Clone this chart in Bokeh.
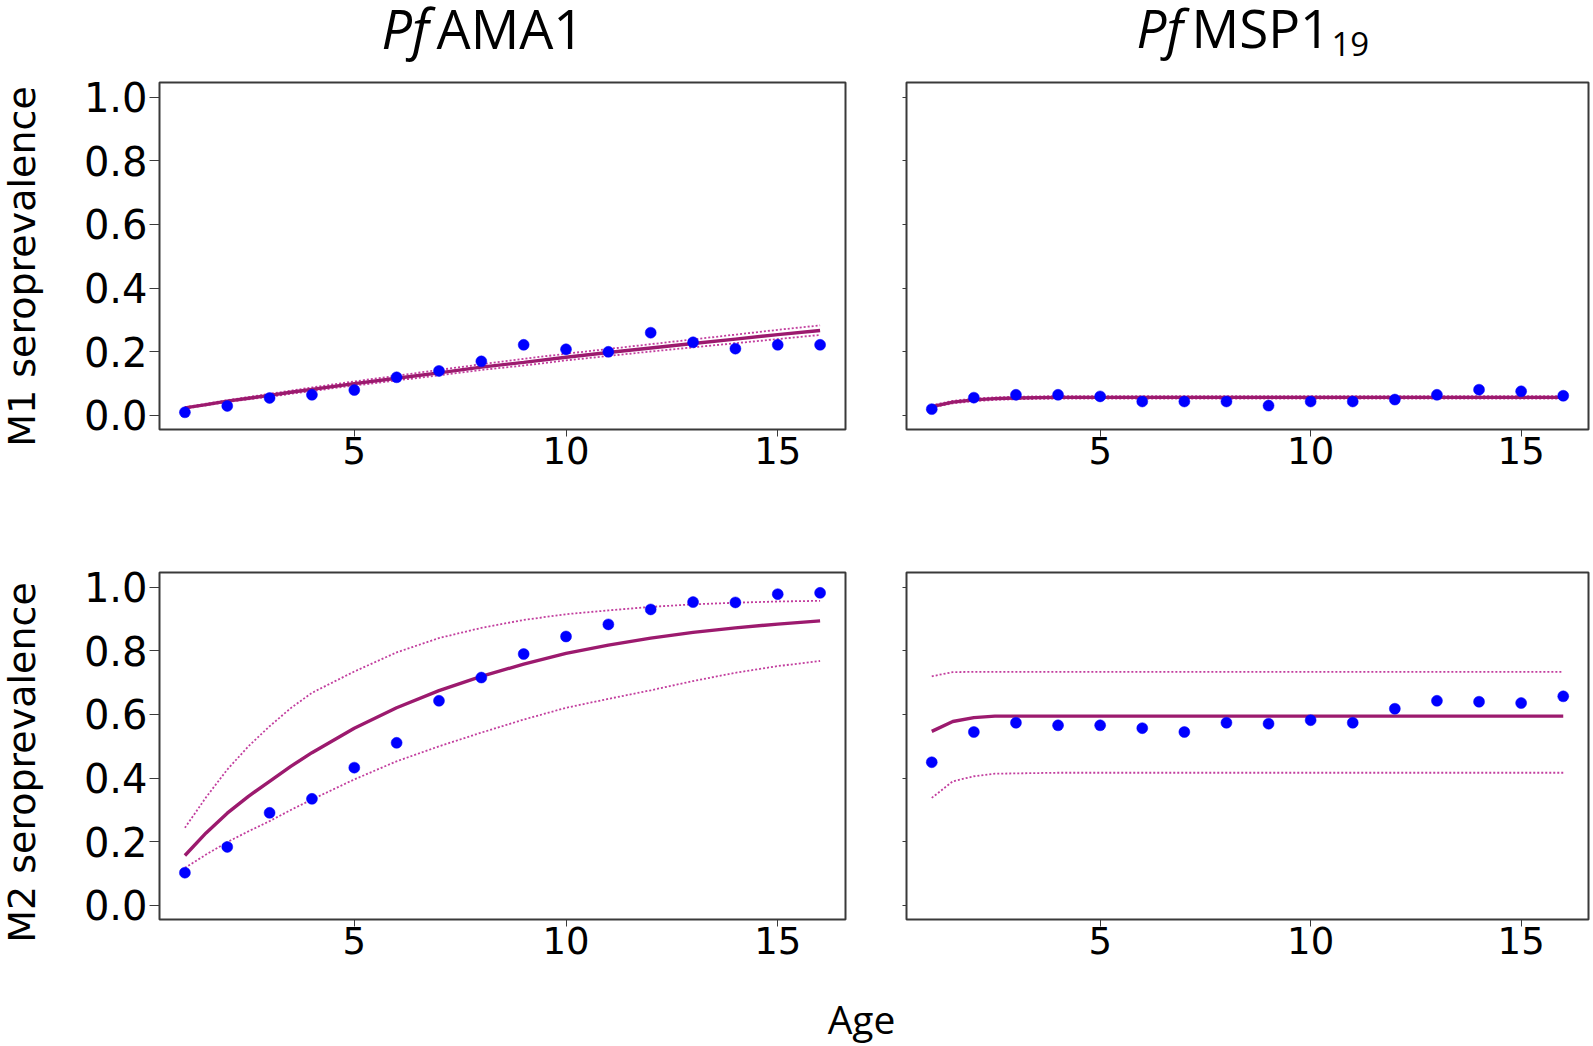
import math
from bokeh.plotting import figure
from bokeh.layouts import column, row
from bokeh.models import FixedTicker, PrintfTickFormatter, CustomJSTickFormatter, Range1d
from bokeh.core.properties import value
from bokeh.embed import file_html
from bokeh.resources import INLINE

# ---------------- data ----------------
ages = [1, 2, 3, 4, 5, 6, 7, 8, 9, 10, 11, 12, 13, 14, 15, 16]
fit_ages = [1, 1.5, 2, 2.5, 3, 3.5, 4, 5, 6, 7, 8, 9, 10, 11, 12, 13, 14, 15, 16]

x_ticks = [5, 10, 15]
y_ticks = [0.0, 0.2, 0.4, 0.6, 0.8, 1.0]

# M1, Pf AMA1
m1_ama1_obs = [0.01, 0.03, 0.055, 0.065, 0.08, 0.12, 0.14, 0.17, 0.222, 0.208, 0.20, 0.26, 0.23, 0.21, 0.222, 0.222]
m1_ama1_fit = [0.024, 0.034, 0.045, 0.054, 0.063, 0.073, 0.082, 0.100, 0.117, 0.134, 0.152, 0.167, 0.183, 0.198, 0.212, 0.226, 0.240, 0.254, 0.267]
m1_ama1_hi = [0.026, 0.037, 0.048, 0.058, 0.068, 0.078, 0.088, 0.107, 0.125, 0.143, 0.161, 0.178, 0.194, 0.209, 0.224, 0.239, 0.254, 0.269, 0.283]
m1_ama1_lo = [0.022, 0.032, 0.042, 0.051, 0.059, 0.068, 0.077, 0.094, 0.110, 0.126, 0.143, 0.157, 0.173, 0.187, 0.201, 0.214, 0.227, 0.240, 0.253]

# M1, Pf MSP1-19
m1_msp1_obs = [0.02, 0.056, 0.065, 0.065, 0.060, 0.044, 0.044, 0.044, 0.031, 0.044, 0.044, 0.050, 0.065, 0.081, 0.076, 0.062]
m1_msp1_fit = [0.028, 0.042, 0.049, 0.053, 0.055, 0.056, 0.057, 0.057, 0.057, 0.057, 0.057, 0.057, 0.057, 0.057, 0.057, 0.057, 0.057, 0.057, 0.057]
m1_msp1_hi = [0.032, 0.046, 0.053, 0.057, 0.059, 0.060, 0.061, 0.061, 0.061, 0.061, 0.061, 0.061, 0.061, 0.061, 0.061, 0.061, 0.061, 0.061, 0.061]
m1_msp1_lo = [0.025, 0.038, 0.045, 0.049, 0.051, 0.052, 0.053, 0.053, 0.053, 0.053, 0.053, 0.053, 0.053, 0.053, 0.053, 0.053, 0.053, 0.053, 0.053]

# M2, Pf AMA1
m2_ama1_obs = [0.103, 0.184, 0.291, 0.335, 0.433, 0.511, 0.643, 0.716, 0.790, 0.845, 0.883, 0.930, 0.953, 0.952, 0.978, 0.982]
m2_ama1_fit = [0.157, 0.228, 0.290, 0.343, 0.390, 0.437, 0.480, 0.557, 0.621, 0.675, 0.720, 0.758, 0.792, 0.818, 0.840, 0.858, 0.872, 0.884, 0.894]
m2_ama1_hi = [0.244, 0.340, 0.427, 0.500, 0.563, 0.620, 0.668, 0.735, 0.795, 0.840, 0.872, 0.897, 0.915, 0.927, 0.938, 0.946, 0.951, 0.955, 0.957]
m2_ama1_lo = [0.118, 0.160, 0.199, 0.233, 0.265, 0.300, 0.333, 0.396, 0.453, 0.500, 0.543, 0.584, 0.621, 0.649, 0.676, 0.705, 0.731, 0.752, 0.768]

# M2, Pf MSP1-19
m2_msp1_obs = [0.450, 0.545, 0.574, 0.566, 0.566, 0.557, 0.545, 0.574, 0.571, 0.582, 0.574, 0.618, 0.643, 0.640, 0.636, 0.657]
m2_msp1_fit = [0.547, 0.578, 0.590, 0.595, 0.595, 0.595, 0.595, 0.595, 0.595, 0.595, 0.595, 0.595, 0.595, 0.595, 0.595, 0.595, 0.595, 0.595, 0.595]
m2_msp1_hi = [0.720, 0.733, 0.734, 0.734, 0.734, 0.734, 0.734, 0.734, 0.734, 0.734, 0.734, 0.734, 0.734, 0.734, 0.734, 0.734, 0.734, 0.734, 0.734]
m2_msp1_lo = [0.338, 0.390, 0.406, 0.414, 0.415, 0.416, 0.417, 0.417, 0.417, 0.417, 0.417, 0.417, 0.417, 0.417, 0.417, 0.417, 0.417, 0.417, 0.417]

titles_left = ["Pf", "AMA1"]
titles_right = ["Pf", "MSP1", "19"]
y_titles = ["M1 seroprevalence", "M2 seroprevalence"]
x_title = "Age"

# ---------------- styling / layout ----------------
X0, X1 = 0.4, 16.6
Y0, Y1 = -0.044, 1.046
FRAME_H = 347
LEFT_FRAME_W = 686
RIGHT_FRAME_W = 682

SOLID = "#9C1A6E"
DOTTED = "#C23E9E"
POINT = "#0000FF"
FRAME_COL = "#3A3A3A"
TICK_FONT = "DejaVu Sans"
LABEL_FONT = "DejaVu Sans"
TITLE_FONT = "Open Sans"

# page geometry (pixels from the page's top-left corner)
YLAB_W = 55
SPLIT_X = 900
TOTAL_W = 1592
TITLE_H = 76
ROW1_H = 414
ROW2_H = 490
AGE_H = 65


def panel(fw, bl, br, bt, bb, obs, fit, hi, lo, left_labels):
    w = bl + fw + br
    h = bt + FRAME_H + bb
    p = figure(width=w, height=h, x_range=Range1d(X0, X1), y_range=Range1d(Y0, Y1),
               output_backend="svg", toolbar_location=None, frame_align=False,
               min_border_left=bl, min_border_right=br, min_border_top=bt, min_border_bottom=bb)
    p.xgrid.visible = False
    p.ygrid.visible = False
    p.outline_line_color = FRAME_COL
    p.outline_line_width = 2
    p.background_fill_color = "white"
    p.border_fill_color = "white"

    xa = p.xaxis[0]
    xa.ticker = FixedTicker(ticks=x_ticks)
    xa.axis_line_color = None
    xa.major_tick_out = 7
    xa.major_tick_in = 0
    xa.major_tick_line_color = FRAME_COL
    xa.major_tick_line_width = 1
    xa.minor_tick_line_color = None
    xa.major_label_standoff = 0
    xa.major_label_text_font = TICK_FONT
    xa.major_label_text_font_size = "37px"
    xa.major_label_text_color = "black"

    ya = p.yaxis[0]
    ya.ticker = FixedTicker(ticks=y_ticks)
    ya.axis_line_color = None
    ya.major_tick_in = 0
    ya.major_tick_line_color = FRAME_COL
    ya.major_tick_line_width = 1
    ya.minor_tick_line_color = None
    if left_labels:
        ya.formatter = PrintfTickFormatter(format="%.1f")
        ya.major_tick_out = 10
        ya.major_label_standoff = 2
        ya.major_label_text_font = TICK_FONT
        ya.major_label_text_font_size = "40px"
        ya.major_label_text_color = "black"
    else:
        ya.formatter = CustomJSTickFormatter(code="return ''")
        ya.major_tick_out = 4
        ya.major_label_standoff = 0
        ya.major_label_text_font_size = "1px"

    p.line(fit_ages, lo, line_color=DOTTED, line_width=1.8, line_dash="2 2")
    p.line(fit_ages, hi, line_color=DOTTED, line_width=1.8, line_dash="2 2")
    p.line(fit_ages, fit, line_color=SOLID, line_width=3.4)
    p.scatter(ages, obs, marker="circle", size=11, fill_color=POINT, line_color=POINT, line_width=0.5)
    return p


def text_fig(x0, x1, y0, y1):
    """A bare figure whose data coordinates are page pixels (y downward)."""
    p = figure(width=x1 - x0, height=y1 - y0, x_range=Range1d(x0, x1), y_range=Range1d(y1, y0),
               output_backend="svg", toolbar_location=None, frame_align=False,
               x_axis_location=None, y_axis_location=None, min_border=0)
    p.xgrid.visible = False
    p.ygrid.visible = False
    p.outline_line_color = None
    p.background_fill_color = "white"
    p.border_fill_color = "white"
    return p


def put(p, x, y, text, font, size, style="normal", align="left", angle=0.0):
    p.text(x=[x], y=[y], text=[text], text_font=value(font), text_font_size=value(size),
           text_font_style=value(style), text_align=value(align), text_baseline=value("middle"),
           angle=angle, text_color="black")


# borders
L_BL = 159 - YLAB_W
L_BR = SPLIT_X - YLAB_W - L_BL - LEFT_FRAME_W
R_BL = 906 - SPLIT_X
R_BR = TOTAL_W - SPLIT_X - R_BL - RIGHT_FRAME_W
TOP_BT = 82 - TITLE_H
TOP_BB = ROW1_H - TOP_BT - FRAME_H
BOT_BT = 572 - TITLE_H - ROW1_H
BOT_BB = ROW2_H - BOT_BT - FRAME_H

tl = panel(LEFT_FRAME_W, L_BL, L_BR, TOP_BT, TOP_BB, m1_ama1_obs, m1_ama1_fit, m1_ama1_hi, m1_ama1_lo, True)
tr = panel(RIGHT_FRAME_W, R_BL, R_BR, TOP_BT, TOP_BB, m1_msp1_obs, m1_msp1_fit, m1_msp1_hi, m1_msp1_lo, False)
bl = panel(LEFT_FRAME_W, L_BL, L_BR, BOT_BT, BOT_BB, m2_ama1_obs, m2_ama1_fit, m2_ama1_hi, m2_ama1_lo, True)
br = panel(RIGHT_FRAME_W, R_BL, R_BR, BOT_BT, BOT_BB, m2_msp1_obs, m2_msp1_fit, m2_msp1_hi, m2_msp1_lo, False)

r1_top = TITLE_H
r2_top = TITLE_H + ROW1_H
age_top = r2_top + ROW2_H

# title strip (y = vertical centre of each text, in page pixels)
title_fig = text_fig(0, TOTAL_W, 0, TITLE_H)
put(title_fig, 381, 27, titles_left[0], TITLE_FONT, "54px", style="italic")
put(title_fig, 436, 27, titles_left[1], TITLE_FONT, "54px")
put(title_fig, 1136, 27, titles_right[0], TITLE_FONT, "53px", style="italic")
put(title_fig, 1191, 27, titles_right[1], TITLE_FONT, "53px")
put(title_fig, 1331, 43, titles_right[2], TITLE_FONT, "33px")

# y-axis titles
ylab1 = text_fig(0, YLAB_W, r1_top, r2_top)
put(ylab1, 21, 266, y_titles[0], LABEL_FONT, "38px", align="center", angle=math.pi / 2)
ylab2 = text_fig(0, YLAB_W, r2_top, age_top)
put(ylab2, 21, 762, y_titles[1], LABEL_FONT, "38px", align="center", angle=math.pi / 2)

# x-axis title
age_fig = text_fig(0, TOTAL_W, age_top, age_top + AGE_H)
put(age_fig, 861, 1018, x_title, TITLE_FONT, "39px", align="center")

layout = column(title_fig,
                row(ylab1, tl, tr),
                row(ylab2, bl, br),
                age_fig)
open("out.html", "w").write(file_html(layout, INLINE))
